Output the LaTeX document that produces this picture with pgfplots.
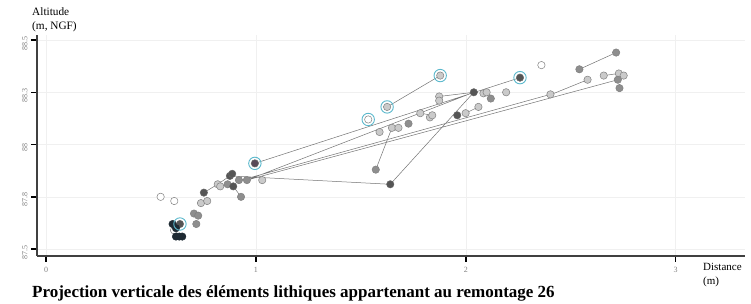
\documentclass[border=0pt]{standalone}
\usepackage{fontspec}
\setmainfont{Liberation Serif}
\usepackage{pgfplots}
\pgfplotsset{compat=1.18}
\definecolor{ringc}{HTML}{5BB8CC}
\definecolor{lightg}{HTML}{CACACA}
\definecolor{midg}{HTML}{8E8E8E}
\definecolor{darkg}{HTML}{555555}
\definecolor{navy}{HTML}{1E2A33}
\definecolor{purpd}{HTML}{5A4A58}
\begin{document}
\begin{tikzpicture}
\begin{axis}[
 scale only axis, width=708pt, height=221pt,
 xmin=-0.043, xmax=3.33, ymin=87.467, ymax=88.524,
 axis x line=bottom, axis y line=left,
 axis line style={-, line width=1.3pt, black!75},
 xtick={0,1,2,3}, ytick={87.5,87.75,88,88.25,88.5},
 yticklabels={87.5,87.8,88,88.3,88.5},
 tick align=outside, major tick length=6pt,
 tick style={line width=1.4pt, black},
 grid=major, major grid style={black!6, line width=0.6pt},
 ticklabel style={font=\fontsize{8}{9}\selectfont, black!50},
 yticklabel style={rotate=90, anchor=south, xshift=-3pt},
 xticklabel style={yshift=-2pt},
 /pgf/number format/assume math mode=true,
 clip=false,
 unbounded coords=jump,
]
\coordinate (O) at (rel axis cs:0,0);
% connecting lines
\addplot[black!55, line width=0.5pt, mark=none] coordinates {
(0.752,87.77) (0.818,87.81) (0.876,87.85) (1.64,87.81) (2.038,88.25) (1.873,88.23) (nan,nan)
(0.892,87.80) (0.929,87.75) (nan,nan)
(0.995,87.91) (2.258,88.32) (nan,nan)
(0.957,87.83) (2.724,88.31) (nan,nan)
(0.93,87.83) (2.403,88.24) (nan,nan)
(0.957,87.83) (2.038,88.25) (nan,nan)
(1.571,87.88) (1.648,88.08) (nan,nan)
(1.625,88.18) (1.878,88.33) (nan,nan)
(1.783,88.15) (1.84,88.14) (nan,nan)
(1.999,88.15) (2.06,88.18) (nan,nan)
(2.408,88.24) (2.58,88.31) (nan,nan)
(2.541,88.36) (2.716,88.44) (nan,nan)
(2.657,88.33) (2.729,88.34)
};
% open points
\addplot[only marks, mark=*, mark size=3.7pt, mark options={fill=white, draw=black!50, line width=0.5pt}] coordinates {
(0.546,87.75) (0.611,87.73) (0.61,87.59) (1.535,88.12) (2.36,88.38)
};
% light grey
\addplot[only marks, mark=*, mark size=3.7pt, mark options={fill=lightg, draw=black!50, line width=0.5pt}] coordinates {
(0.738,87.72) (0.768,87.73) (0.818,87.81) (0.83,87.80) (1.03,87.83) (1.589,88.06) (1.648,88.08) (1.679,88.08)
(1.625,88.18) (1.878,88.33) (1.783,88.15) (1.829,88.13) (1.84,88.14) (1.873,88.23) (1.873,88.21)
(1.999,88.15) (2.06,88.18) (2.084,88.245) (2.099,88.25) (2.192,88.25) (2.403,88.24) (2.58,88.31)
(2.657,88.33) (2.729,88.34) (2.752,88.33)
};
% mid grey
\addplot[only marks, mark=*, mark size=3.7pt, mark options={fill=midg, draw=black!50, line width=0.5pt}] coordinates {
(0.716,87.62) (0.705,87.67) (0.725,87.66) (0.865,87.81) (0.929,87.75) (0.919,87.83) (0.957,87.83)
(1.571,87.88) (2.541,88.36) (2.716,88.44) (2.724,88.31) (2.732,88.27) (2.119,88.22) (1.727,88.10)
};
% dark grey
\addplot[only marks, mark=*, mark size=3.7pt, mark options={fill=darkg, draw=black!60, line width=0.5pt}] coordinates {
(0.752,87.77) (0.876,87.85) (0.887,87.86) (0.892,87.80) (1.64,87.81) (2.038,88.25) (1.959,88.14)
(0.638,87.62) (2.258,88.32)
};
\addplot[only marks, mark=*, mark size=3.7pt, mark options={fill=purpd, draw=black!60, line width=0.5pt}] coordinates {
(0.995,87.91)
};
% near black
\addplot[only marks, mark=*, mark size=3.7pt, mark options={fill=navy, draw=navy, line width=0.5pt}] coordinates {
(0.603,87.62) (0.619,87.60) (0.619,87.56) (0.635,87.56) (0.649,87.56)
};
% cyan rings
\addplot[only marks, mark=o, mark size=6.2pt, mark options={draw=ringc, line width=0.9pt}] coordinates {
(0.638,87.62) (0.995,87.91) (1.535,88.12) (1.625,88.18) (1.878,88.33) (2.258,88.32)
};
\end{axis}
\node[anchor=west, align=left, font=\fontsize{11.3}{13.5}\selectfont, inner sep=0pt] at ([shift={(-5pt,236pt)}]O) {Altitude\\(m, NGF)};
\node[anchor=west, align=left, font=\fontsize{11}{13.5}\selectfont, inner sep=0pt] at ([shift={(666pt,-19pt)}]O) {Distance\\(m)};
\node[anchor=west, font=\fontsize{17}{19}\selectfont\bfseries, inner sep=0pt] at ([shift={(-5pt,-37pt)}]O) {Projection verticale des éléments lithiques appartenant au remontage 26};
\pgfresetboundingbox
\path[use as bounding box] ([shift={(-37pt,-48pt)}]O) rectangle ++(751pt,304pt);
\end{tikzpicture}
\end{document}
